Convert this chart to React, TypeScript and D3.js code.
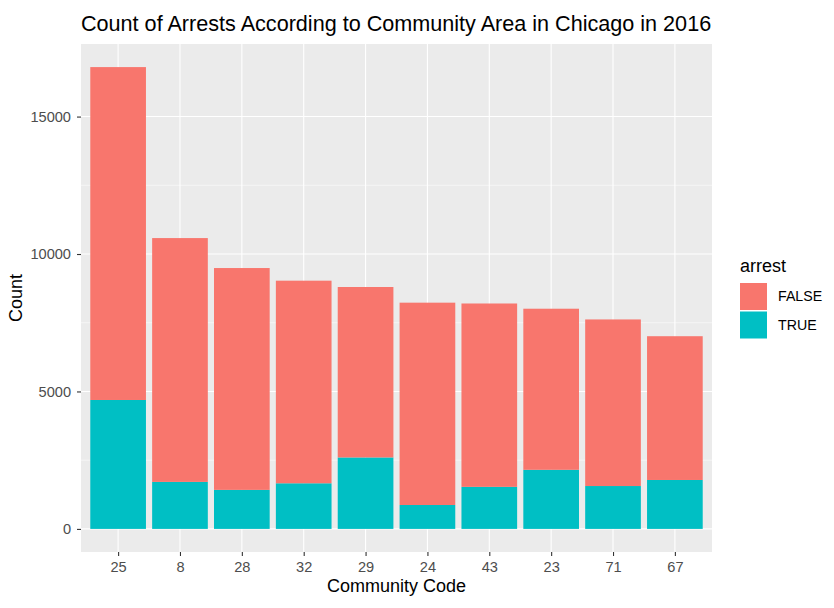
import React, { useEffect, useRef } from 'react';
import * as d3 from 'd3';

// community codes in plotted order
const communities = ['25', '8', '28', '32', '29', '24', '43', '23', '71', '67'];
// arrest == TRUE counts
const trueCounts = [4690, 1710, 1420, 1660, 2600, 870, 1530, 2150, 1560, 1780];
// total counts (FALSE + TRUE)
const totalCounts = [16800, 10580, 9490, 9030, 8800, 8230, 8200, 8010, 7620, 7010];
const arrestLevels = ['FALSE', 'TRUE'];
const yTicks = [0, 5000, 10000, 15000];

const App: React.FC = () => {
  const chartRef = useRef<SVGSVGElement | null>(null);

  useEffect(() => {
    const W = 834;
    const H = 608;
    const panel = { left: 81, right: 712, top: 44, bottom: 552 };
    const font = '"Liberation Sans", Arial, sans-serif';

    const root = d3.select(chartRef.current);
    root.selectAll('*').remove();
    root.attr('width', W).attr('height', H)
      .style('position', 'absolute')
      .style('left', '0px')
      .style('top', '0px')
      .style('font-family', font);

    root.append('rect').attr('width', W).attr('height', H).attr('fill', '#fff');

    const rows = communities.map((c, i) => ({
      code: c,
      TRUE: trueCounts[i],
      FALSE: totalCounts[i] - trueCounts[i],
    }));

    const maxVal = d3.max(totalCounts) as number;
    const y = d3.scaleLinear()
      .domain([-0.05 * maxVal, maxVal * 1.05])
      .range([panel.bottom, panel.top]);

    // discrete scale with ggplot's 0.6 expansion
    const step = (panel.right - panel.left) / (communities.length - 1 + 1.2);
    const x = d3.scalePoint<string>()
      .domain(communities)
      .range([panel.left + 0.6 * step, panel.right - 0.6 * step]);
    const barW = step * 0.9;

    const color = d3.scaleOrdinal<string>()
      .domain(arrestLevels)
      .range(['#F8766D', '#00BFC4']);

    // panel background
    root.append('rect')
      .attr('x', panel.left)
      .attr('y', panel.top)
      .attr('width', panel.right - panel.left)
      .attr('height', panel.bottom - panel.top)
      .attr('fill', '#EBEBEB');

    // minor grid
    const minor = yTicks.slice(0, -1).map(t => t + 2500);
    root.append('g')
      .selectAll('line')
      .data(minor)
      .enter().append('line')
      .attr('x1', panel.left)
      .attr('x2', panel.right)
      .attr('y1', d => y(d))
      .attr('y2', d => y(d))
      .attr('stroke', '#fff')
      .attr('stroke-width', 0.55);

    // major grid
    root.append('g')
      .selectAll('line')
      .data(yTicks)
      .enter().append('line')
      .attr('x1', panel.left)
      .attr('x2', panel.right)
      .attr('y1', d => y(d))
      .attr('y2', d => y(d))
      .attr('stroke', '#fff')
      .attr('stroke-width', 1.1);

    root.append('g')
      .selectAll('line')
      .data(communities)
      .enter().append('line')
      .attr('x1', d => x(d) as number)
      .attr('x2', d => x(d) as number)
      .attr('y1', panel.top)
      .attr('y2', panel.bottom)
      .attr('stroke', '#fff')
      .attr('stroke-width', 1.1);

    // stacked bars, TRUE at the bottom like ggplot
    const stack = d3.stack<any>().keys(['TRUE', 'FALSE']);
    const series = stack(rows);

    series.forEach(s => {
      root.append('g')
        .selectAll('rect')
        .data(s)
        .enter().append('rect')
        .attr('x', d => (x(d.data.code) as number) - barW / 2)
        .attr('width', barW)
        .attr('y', d => y(d[1]))
        .attr('height', d => y(d[0]) - y(d[1]))
        .attr('fill', color(s.key));
    });

    // y axis
    const yAxis = root.append('g')
      .attr('transform', `translate(${panel.left},0)`)
      .call(d3.axisLeft(y).tickValues(yTicks).tickSize(4).tickPadding(6).tickFormat(d => String(d)));
    yAxis.select('.domain').remove();
    yAxis.selectAll('line').attr('stroke', '#333').attr('stroke-width', 1.1);
    yAxis.selectAll('text')
      .attr('fill', '#4D4D4D')
      .style('font-size', '14.6px')
      .style('font-family', font);

    // x axis
    const xAxis = root.append('g')
      .attr('transform', `translate(0,${panel.bottom})`)
      .call(d3.axisBottom(x).tickSize(4).tickPadding(6));
    xAxis.select('.domain').remove();
    xAxis.selectAll('line').attr('stroke', '#333').attr('stroke-width', 1.1);
    xAxis.selectAll('text')
      .attr('fill', '#4D4D4D')
      .style('font-size', '14.6px')
      .style('font-family', font);

    // titles
    root.append('text')
      .attr('x', panel.left)
      .attr('y', 31)
      .style('font-size', '21.6px')
      .attr('fill', '#000')
      .text('Count of Arrests According to Community Area in Chicago in 2016');

    root.append('text')
      .attr('x', (panel.left + panel.right) / 2)
      .attr('y', 592)
      .attr('text-anchor', 'middle')
      .style('font-size', '18px')
      .text('Community Code');

    root.append('text')
      .attr('transform', `translate(22,${(panel.top + panel.bottom) / 2}) rotate(-90)`)
      .attr('text-anchor', 'middle')
      .style('font-size', '18px')
      .text('Count');

    // legend
    const legend = root.append('g').attr('transform', 'translate(740,0)');
    legend.append('text')
      .attr('x', 0)
      .attr('y', 272)
      .style('font-size', '18px')
      .text('arrest');

    arrestLevels.forEach((lvl, i) => {
      const top = 283 + i * 28.5;
      legend.append('rect')
        .attr('x', 0)
        .attr('y', top)
        .attr('width', 27)
        .attr('height', 27)
        .attr('fill', color(lvl));
      legend.append('text')
        .attr('x', 38)
        .attr('y', top + 13.5)
        .attr('dy', '0.35em')
        .style('font-size', '14.2px')
        .text(lvl);
    });
  }, []);

  return <svg ref={chartRef}></svg>;
};

export default App;
